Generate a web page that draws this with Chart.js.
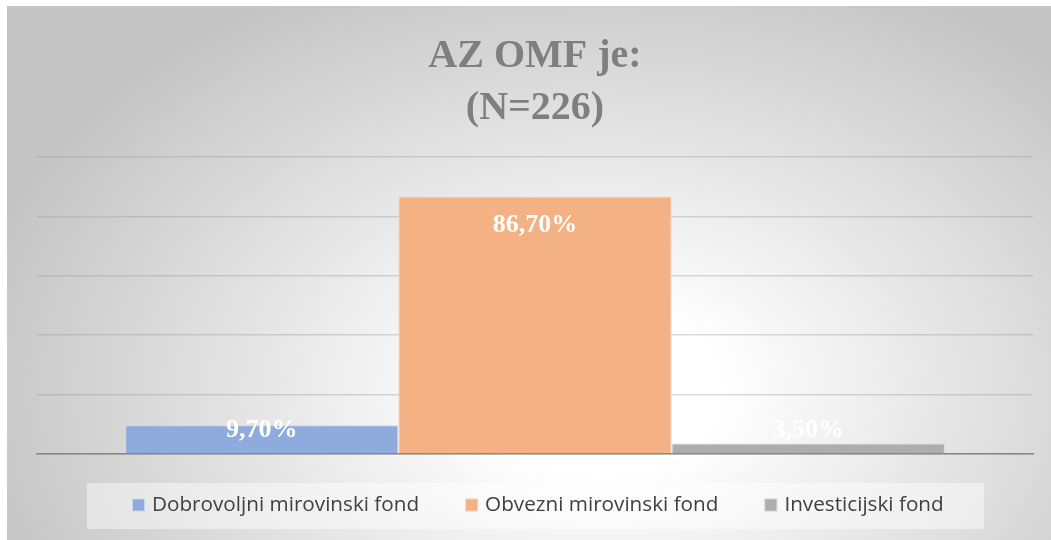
<!DOCTYPE html>
<html><head><meta charset="utf-8">
<script src="https://cdn.jsdelivr.net/npm/chart.js@4.4.0/dist/chart.umd.min.js"></script>
<style>
html,body{margin:0;padding:0;background:#fff;overflow:hidden;}
#bg{position:absolute;left:7px;top:6px;width:1044px;height:534px;
 background:radial-gradient(ellipse 62% 85% at 57% 72%, #ffffff 0%, #ffffff 18%, #c4c4c4 100%);}
#wrap{position:absolute;left:0;top:0;width:1051px;height:540px;}
</style></head><body>
<div id="bg"></div>
<div id="wrap"><canvas id="c" width="1051" height="540"></canvas></div>
<script>
const categories = [''];
const seriesNames = ['Dobrovoljni mirovinski fond', 'Obvezni mirovinski fond', 'Investicijski fond'];
const seriesValues = [[9.7], [86.7], [3.5]];
const seriesColors = ['#8faadc', '#f4b183', '#adadad'];
const seriesBorders = ['#c9d6ef', '#f9d3b8', '#d4d4d4'];
const yTicks = [0, 20, 40, 60, 80, 100];
const titleLines = ['AZ OMF je:', '(N=226)'];

function fmt(v) { return v.toFixed(2).replace('.', ',') + '%'; }

const dataLabels = {
  id: 'dataLabels',
  afterDatasetsDraw(chart) {
    const ctx = chart.ctx;
    const base = chart.scales.y.getPixelForValue(0);
    ctx.save();
    ctx.font = 'bold 26px "Liberation Serif", "Times New Roman", serif';
    ctx.fillStyle = '#ffffff';
    ctx.textAlign = 'center';
    ctx.textBaseline = 'middle';
    chart.data.datasets.forEach((ds, i) => {
      const meta = chart.getDatasetMeta(i);
      meta.data.forEach((bar, j) => {
        const y = Math.min(bar.y + 29, base - 24);
        ctx.fillText(fmt(ds.data[j]), bar.x, y);
      });
    });
    ctx.restore();
  }
};

const customLegend = {
  id: 'customLegend',
  afterDraw(chart) {
    const ctx = chart.ctx;
    ctx.save();
    ctx.fillStyle = 'rgba(255,255,255,0.45)';
    ctx.fillRect(87, 483, 897, 46);
    ctx.font = '20.7px "Open Sans", "Noto Sans", sans-serif';
    const box = 13, gapBox = 7, gapItem = 46;
    let x = 132;
    const cy = 505.5;
    chart.data.datasets.forEach((ds, i) => {
      ctx.fillStyle = ds.borderColor;
      ctx.fillRect(x, cy - 7, box, box);
      ctx.fillStyle = ds.backgroundColor;
      ctx.fillRect(x + 1, cy - 6, box - 2, box - 2);
      x += box + gapBox;
      ctx.fillStyle = '#404040';
      ctx.textBaseline = 'middle';
      ctx.textAlign = 'left';
      ctx.fillText(ds.label, x, cy);
      x += ctx.measureText(ds.label).width + gapItem;
    });
    ctx.restore();
  }
};

new Chart(document.getElementById('c'), {
  type: 'bar',
  data: {
    labels: categories,
    datasets: seriesNames.map((n, i) => ({
      label: n,
      data: seriesValues[i],
      backgroundColor: seriesColors[i],
      borderColor: seriesBorders[i],
      borderWidth: 1,
      categoryPercentage: 0.823,
      barPercentage: 1
    }))
  },
  options: {
    responsive: false,
    animation: false,
    layout: { padding: { top: 30.5, left: 37, right: 18, bottom: 86 } },
    plugins: {
      legend: { display: false },
      tooltip: { enabled: false },
      title: {
        display: true,
        text: titleLines,
        color: '#7f7f7f',
        font: { family: '"Liberation Serif", "Times New Roman", serif', size: 40, weight: 'bold', lineHeight: 1.3 },
        padding: { top: 0, bottom: 22.5 }
      }
    },
    scales: {
      x: {
        ticks: { display: false },
        grid: { display: false, drawTicks: false },
        border: { display: true, color: '#858585', width: 1.5 }
      },
      y: {
        min: yTicks[0],
        max: yTicks[yTicks.length - 1],
        afterBuildTicks(scale) { scale.ticks = yTicks.map(v => ({ value: v })); },
        ticks: { display: false },
        grid: { color: 'rgba(150,150,150,0.35)', lineWidth: 1.5, drawTicks: false },
        border: { display: false }
      }
    }
  },
  plugins: [dataLabels, customLegend]
});
</script>
</body></html>
